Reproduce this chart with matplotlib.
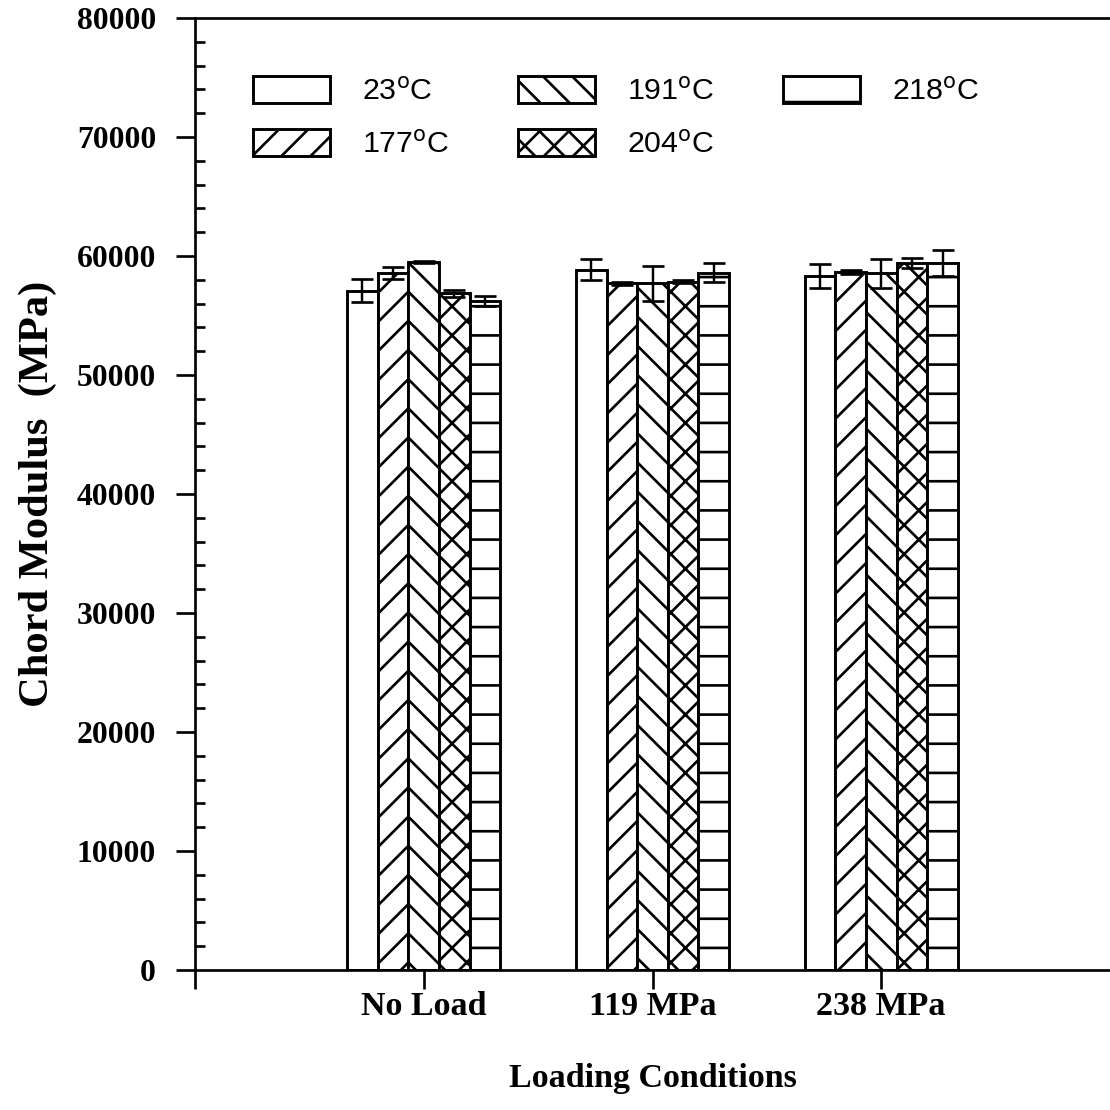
import numpy as np
import matplotlib
matplotlib.use("Agg")
import matplotlib.pyplot as plt
from matplotlib.ticker import MultipleLocator

# dane
conditions = ["No Load", "119 MPa", "238 MPa"]
temps = ["23$^{\\rm o}$C", "177$^{\\rm o}$C", "191$^{\\rm o}$C", "204$^{\\rm o}$C", "218$^{\\rm o}$C"]
hatches = ["", "//", "\\\\", "xx", "-"]

modulus_23 = [57100, 58850, 58300]
modulus_177 = [58550, 57700, 58650]
modulus_191 = [59500, 57700, 58550]
modulus_204 = [56850, 57850, 59400]
modulus_218 = [56200, 58600, 59400]

err_23 = [1000, 900, 1000]
err_177 = [500, 150, 200]
err_191 = [100, 1450, 1200]
err_204 = [300, 150, 450]
err_218 = [400, 800, 1100]

values = [modulus_23, modulus_177, modulus_191, modulus_204, modulus_218]
errors = [err_23, err_177, err_191, err_204, err_218]

DPI = 175
plt.rcParams["hatch.linewidth"] = 1.1

fig = plt.figure(figsize=(1110 / DPI, 1110 / DPI), dpi=DPI)
ax = fig.add_axes([195 / 1110, 1 - 970 / 1110, 1 - 195 / 1110, (970 - 18) / 1110])

x = np.arange(1, len(conditions) + 1)
width = 0.134
for i in range(len(temps)):
    pos = x + (i - 2) * width
    ax.bar(pos, values[i], width, color="white", edgecolor="black",
           linewidth=1.2, hatch=hatches[i], label=temps[i], zorder=2)
    ax.errorbar(pos, values[i], yerr=errors[i], fmt="none", ecolor="black",
                elinewidth=1.0, capsize=4.5, capthick=1.1, zorder=3)

ax.set_xlim(0, 4)
ax.set_ylim(0, 80000)
ax.set_xticks([0] + list(x))
ax.set_xticklabels([""] + conditions)
ax.yaxis.set_major_locator(MultipleLocator(10000))
ax.yaxis.set_minor_locator(MultipleLocator(2000))
ax.tick_params(axis="y", which="major", direction="out", length=8, width=1.1, pad=8)
ax.tick_params(axis="y", which="minor", direction="in", length=4, width=1.1)
ax.tick_params(axis="x", which="major", direction="out", length=8, width=1.1, pad=0.5)
ax.spines["right"].set_visible(False)
for s in ["left", "bottom", "top"]:
    ax.spines[s].set_linewidth(1.1)

serif = {"family": "Liberation Serif", "weight": "bold"}
for lab in ax.get_yticklabels():
    lab.set_fontproperties(serif)
    lab.set_fontsize(13)
for lab in ax.get_xticklabels():
    lab.set_fontproperties(serif)
    lab.set_fontsize(14)

ax.set_ylabel("Chord Modulus  (MPa)", fontsize=17.5, labelpad=8, **serif)
ax.set_xlabel("Loading Conditions", fontsize=14, labelpad=17, **serif)

leg = ax.legend(ncol=3, loc="upper left", bbox_to_anchor=(0.033, 0.968), frameon=False,
                prop={"family": "Liberation Sans", "size": 12.5},
                handlelength=2.55, handleheight=1.0, columnspacing=2.25,
                labelspacing=0.75, handletextpad=1.05)
for h in leg.legend_handles:
    h.set_linewidth(1.2)

fig.savefig("out.png", dpi=DPI)
